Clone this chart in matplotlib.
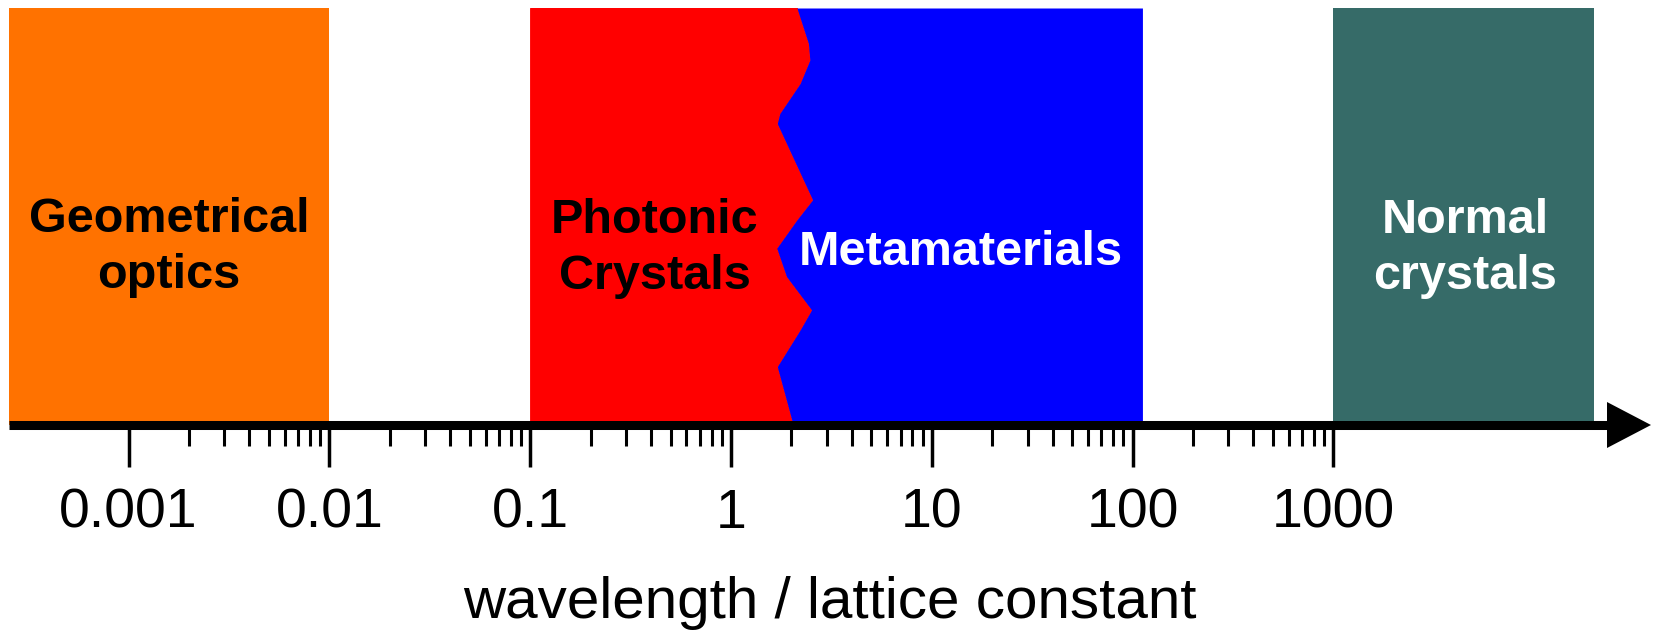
import numpy as np
import matplotlib
matplotlib.use("Agg")
import matplotlib.pyplot as plt

plt.rcParams['font.family'] = ['Liberation Sans', 'DejaVu Sans']

# =========================
# DATA (wavelength / lattice constant)
# =========================
regime_names = ["Geometrical\noptics", "Photonic\nCrystals", "Metamaterials", "Normal\ncrystals"]
geo_span = (2.5e-4, 0.01)
photonic_left = 0.1
meta_right = 112
normal_span = (1000, 19800)

# wavy border between photonic crystals and metamaterials
border_x = [2.13, 2.43, 2.47, 2.21, 1.75, 1.70, 1.89, 2.38, 2.55, 2.13,
            1.69, 1.89, 2.52, 2.21, 1.70, 2.04]
border_y = [1.0, 0.915, 0.875, 0.819, 0.747, 0.723, 0.675, 0.571, 0.540, 0.492,
            0.424, 0.356, 0.276, 0.228, 0.140, 0.0]

major_ticks = [0.001, 0.01, 0.1, 1, 10, 100, 1000]
major_labels = ["0.001", "0.01", "0.1", "1", "10", "100", "1000"]
minor_ticks = [m * 10.0**k for k in range(-3, 3) for m in range(2, 10)]

# colours
c_geo = '#FF7200'
c_phot = '#FF0000'
c_meta = '#0000FF'
c_norm = '#366B68'

# =========================
# FIGURE
# =========================
W, H = 1657, 632
fig = plt.figure(figsize=(W / 100, H / 100), dpi=100)
fig.set_facecolor('white')
ax = fig.add_axes([8.5 / W, 207 / H, (1651 - 8.5) / W, 417 / H])
ax.set_xscale('log')
ax.set_xlim(10**-3.598, 10**4.582)
ax.set_ylim(0, 1)

# regime blocks
ax.axvspan(*geo_span, color=c_geo, lw=0)
ax.fill_betweenx(border_y, photonic_left, border_x, color=c_phot, lw=0.8, ec=c_phot)
ax.fill_betweenx(border_y, border_x, meta_right, color=c_meta, lw=0)
ax.axvspan(*normal_span, color=c_norm, lw=0)

# labels
bold = dict(fontsize=35, fontweight='bold', ha='center', va='center', linespacing=1.32)
ax.text(0.00159, 0.425, regime_names[0], color='black', **bold)
ax.text(0.418, 0.424, regime_names[1], color='black', **bold)
ax.text(13.97, 0.414, regime_names[2], color='white', **bold)
ax.text(4520, 0.424, regime_names[3], color='white', **bold)

# axis line with arrow head
ax.plot([0, 0.975], [0, 0], transform=ax.transAxes, color='black', lw=6.5,
        solid_capstyle='butt', clip_on=False, zorder=5)
hx = 44 / (1651 - 8.5)
hy = 23 / 417
ax.fill([1 - hx, 1.0, 1 - hx], [hy, 0, -hy], transform=ax.transAxes,
        color='black', clip_on=False, zorder=5, lw=0)

# ticks
ax.set_xticks(major_ticks)
ax.set_xticklabels(major_labels)
ax.set_xticks(minor_ticks, minor=True)
ax.xaxis.set_minor_formatter(plt.NullFormatter())
ax.tick_params(axis='x', which='major', direction='out', length=30, width=2.5,
               pad=15, labelsize=40, color='black')
ax.tick_params(axis='x', which='minor', direction='out', length=15, width=2.2,
               color='black')
ax.set_yticks([])
for spine in ax.spines.values():
    spine.set_visible(False)

ax.set_xlabel("wavelength / lattice constant", fontsize=42, labelpad=26)

fig.savefig('out.png', dpi=100, facecolor='white')
